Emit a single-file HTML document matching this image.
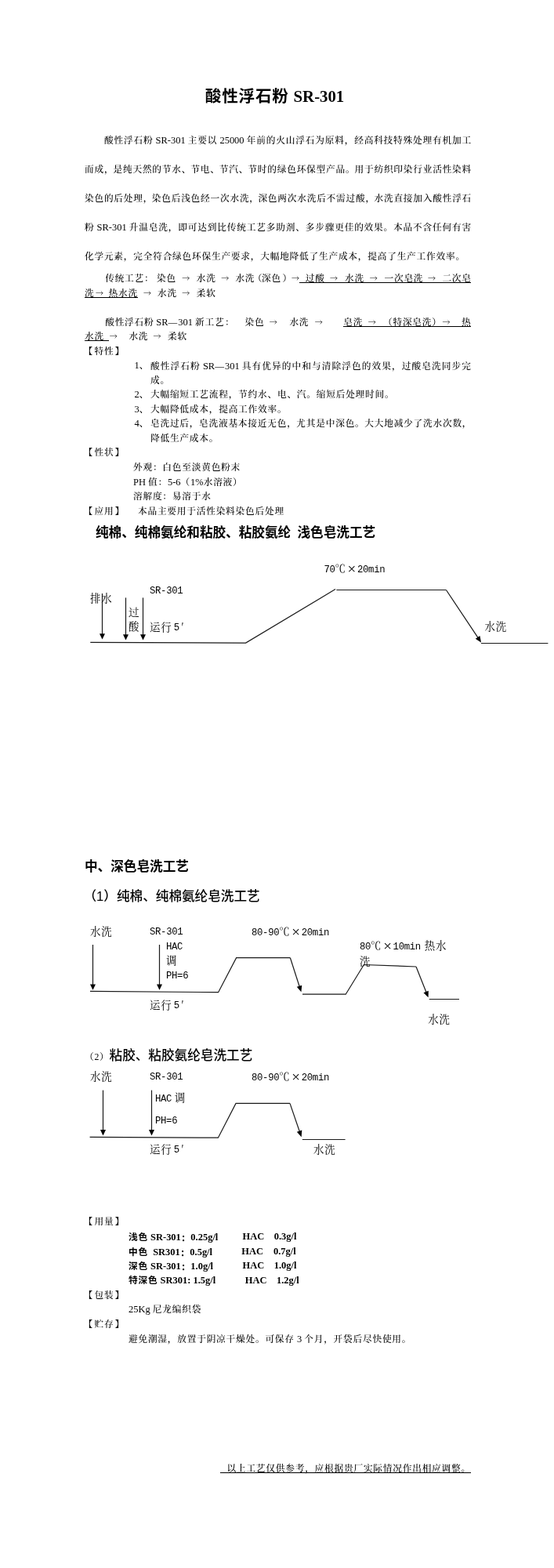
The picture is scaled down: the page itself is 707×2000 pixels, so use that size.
<!DOCTYPE html>
<html lang="zh-CN">
<head>
<meta charset="utf-8">
<title>酸性浮石粉 SR-301</title>
<style>
html,body{margin:0;padding:0;background:#fff;}
body{width:707px;height:2000px;position:relative;overflow:hidden;color:#000;
  font-family:"Liberation Serif","Noto Serif CJK SC",serif;font-size:12.47px;}
#doc{position:absolute;left:0;top:0;width:707px;height:2000px;background:#fff;filter:grayscale(1);}
.l{position:absolute;height:18.53px;line-height:18.53px;white-space:nowrap;margin:0;padding:0;}
.b{font-family:"Liberation Serif","Noto Serif CJK SC",serif;font-size:11.7px;letter-spacing:0.77px;font-weight:500;}
.e{font-family:"Liberation Serif","Noto Serif CJK SC",serif;font-size:12.47px;letter-spacing:0;}
.a{font-family:"Noto Serif CJK SC",serif;font-size:10px;letter-spacing:0;position:relative;top:-1px;}
.t{font-family:"Liberation Sans","Noto Sans CJK SC",sans-serif;font-size:20.6px;letter-spacing:0.8px;font-weight:700;white-space:pre;}
.te{font-family:"Liberation Serif","Noto Serif CJK SC",serif;font-size:20.8px;letter-spacing:0;margin-left:0.6px;}
.h{font-family:"Liberation Sans","Noto Sans CJK SC",sans-serif;font-size:16.63px;font-weight:500;}
.hb{font-weight:700;}
.bk{font-weight:700;}
.d{font-family:"Liberation Serif","Noto Serif CJK SC",serif;font-size:13.4px;letter-spacing:0.85px;font-weight:400;white-space:pre;color:#000;}
.m{font-family:"Liberation Mono",monospace;font-size:12.3px;letter-spacing:-0.33px;}
.x{display:inline-block;width:14.25px;text-align:center;letter-spacing:0;font-family:"Liberation Serif",serif;font-size:19px;line-height:1px;vertical-align:-1.5px;}
.c{display:inline-block;width:14.25px;letter-spacing:0;font-family:"Noto Serif CJK SC",serif;}
.q{letter-spacing:0;font-family:"Noto Serif CJK SC",serif;}
.k{font-family:"Liberation Sans","Noto Sans CJK SC",sans-serif;font-weight:700;font-size:11.7px;letter-spacing:0.77px;}
.kc{font-family:"Noto Serif CJK SC",serif;position:relative;top:1.5px;}
b.e{font-weight:700;}
.u{position:absolute;height:0;border-top:1px solid #000;}
svg{position:absolute;left:0;top:0;}
svg line,svg polyline{stroke:#1a1a1a;stroke-width:1.2;fill:none;}
svg polygon{fill:#000;stroke:none;}
</style>
</head>
<body>
<div id="doc">
<svg width="707" height="2000" viewBox="0 0 707 2000">
<line x1="130.5" y1="757" x2="130.5" y2="809.2"/><polygon points="127.0,808.2 134.0,808.2 130.5,815.6"/>
<line x1="160.5" y1="762.4" x2="160.5" y2="810.2"/><polygon points="157.0,809.2 164.0,809.2 160.5,816.6"/>
<line x1="182.5" y1="762.4" x2="182.5" y2="810.2"/><polygon points="179.0,809.2 186.0,809.2 182.5,816.6"/>
<polyline points="115.3,819.4 313.6,820.1 428,751.6"/>
<polyline points="429.4,752.5 569.4,752.5"/>
<line x1="569.4" y1="752.5" x2="610.16" y2="813.64"/><polygon points="606.78,814.70 612.44,810.92 614.04,819.47"/>
<polyline points="614,820.5 699.4,820.5"/>
<line x1="118.5" y1="1205" x2="118.5" y2="1256.3999999999999"/><polygon points="115.0,1255.3999999999999 122.0,1255.3999999999999 118.5,1262.8"/>
<line x1="203.5" y1="1205" x2="203.5" y2="1256.3999999999999"/><polygon points="200.0,1255.3999999999999 207.0,1255.3999999999999 203.5,1262.8"/>
<polyline points="115,1264.3 278.6,1265.7 301.6,1221.7 370.4,1221.7"/>
<line x1="370.4" y1="1221.7" x2="382.30" y2="1258.70"/><polygon points="378.76,1258.79 385.23,1256.70 384.44,1265.36"/>
<polyline points="386,1268.2 441.2,1268.2 464.4,1230.5 531,1233"/>
<line x1="531" y1="1233" x2="544.02" y2="1265.84"/><polygon points="540.49,1266.16 546.81,1263.65 546.59,1272.34"/>
<polyline points="547.7,1274.5 586,1274.5"/>
<line x1="131.5" y1="1390.6" x2="131.5" y2="1442.0"/><polygon points="128.0,1441.0 135.0,1441.0 131.5,1448.4"/>
<line x1="193.5" y1="1390.6" x2="193.5" y2="1442.0"/><polygon points="190.0,1441.0 197.0,1441.0 193.5,1448.4"/>
<polyline points="114.6,1450.3 278.4,1451.2 301,1407.4 370,1407.4"/>
<line x1="370" y1="1407.4" x2="382.39" y2="1443.54"/><polygon points="378.85,1443.69 385.28,1441.49 384.66,1450.16"/>
<polyline points="385.8,1453.5 440.6,1453.5"/>
</svg>
<div class="l t" style="top:107.8px;left:261.8px;height:30px;line-height:30px;">酸性浮石粉<span class="te"> SR-301</span></div>
<div class="l b" style="top:170.00px;left:133.00px;letter-spacing:0.806px;">酸性浮石粉<span class="e"> SR-301 </span>主要以<span class="e"> 25000 </span>年前的火山浮石为原料<span class="p" style="letter-spacing:0.806px">，</span>经高科技特殊处理有机加工</div>
<div class="l b" style="top:208.00px;left:108.00px;letter-spacing:0.770px;">而成<span class="p" style="letter-spacing:-0.094px">，</span>是纯天然的节水<span class="p" style="letter-spacing:-0.094px">、</span>节电<span class="p" style="letter-spacing:-0.094px">、</span>节汽<span class="p" style="letter-spacing:-0.094px">、</span>节时的绿色环保型产品<span class="p" style="letter-spacing:-0.094px">。</span>用于纺织印染行业活性染料</div>
<div class="l b" style="top:245.00px;left:108.00px;letter-spacing:0.770px;">染色的后处理<span class="p" style="letter-spacing:-0.660px">，</span>染色后浅色经一次水洗<span class="p" style="letter-spacing:-0.660px">，</span>深色两次水洗后不需过酸<span class="p" style="letter-spacing:-0.660px">，</span>水洗直接加入酸性浮石</div>
<div class="l b" style="top:281.00px;left:108.00px;letter-spacing:0.802px;">粉<span class="e"> SR-301 </span>升温皂洗<span class="p" style="letter-spacing:0.802px">，</span>即可达到比传统工艺多助剂<span class="p" style="letter-spacing:0.802px">、</span>多步骤更佳的效果<span class="p" style="letter-spacing:0.802px">。</span>本品不含任何有害</div>
<div class="l b" style="top:319.00px;left:108.00px;">化学元素，完全符合绿色环保生产要求，大幅地降低了生产成本，提高了生产工作效率。</div>
<div class="l b" style="top:347.00px;left:134.20px;">传统工艺：</div>
<div class="l b" style="top:347.00px;left:200.00px;">染色</div>
<div class="l b" style="top:347.00px;left:232.20px;"><span class="a">→</span></div>
<div class="l b" style="top:347.00px;left:250.80px;">水洗</div>
<div class="l b" style="top:347.00px;left:282.20px;"><span class="a">→</span></div>
<div class="l b" style="top:347.00px;left:300.40px;">水洗</div>
<div class="l b" style="top:347.00px;left:322.80px;">（</div>
<div class="l b" style="top:347.00px;left:334.10px;">深色</div>
<div class="l b" style="top:347.00px;left:360.60px;">）</div>
<div class="l b" style="top:347.00px;left:372.00px;"><span class="a">→</span></div>
<div class="l b" style="top:347.00px;left:389.70px;">过酸</div>
<div class="l b" style="top:347.00px;left:420.90px;"><span class="a">→</span></div>
<div class="l b" style="top:347.00px;left:440.00px;">水洗</div>
<div class="l b" style="top:347.00px;left:471.70px;"><span class="a">→</span></div>
<div class="l b" style="top:347.00px;left:490.50px;">一次皂洗</div>
<div class="l b" style="top:347.00px;left:546.00px;"><span class="a">→</span></div>
<div class="l b" style="top:347.00px;left:564.40px;">二次皂</div>
<div class="u" style="top:360.00px;left:382.40px;width:218.90px"></div>
<div class="l b" style="top:366.00px;left:108.00px;">洗</div>
<div class="l b" style="top:366.00px;left:122.00px;"><span class="a">→</span></div>
<div class="l b" style="top:366.00px;left:138.60px;">热水洗</div>
<div class="l b" style="top:366.00px;left:183.10px;"><span class="a">→</span></div>
<div class="l b" style="top:366.00px;left:201.00px;">水洗</div>
<div class="l b" style="top:366.00px;left:232.20px;"><span class="a">→</span></div>
<div class="l b" style="top:366.00px;left:250.80px;">柔软</div>
<div class="u" style="top:378.53px;left:108.00px;width:68.00px"></div>
<div class="l b" style="top:403.00px;left:134.20px;">酸性浮石粉</div>
<div class="l b" style="top:403.00px;left:199.30px;margin-top:-1px;"><span class="e">SR</span></div>
<div class="l b" style="top:403.00px;left:214.60px;">—</div>
<div class="l b" style="top:403.00px;left:227.20px;margin-top:-1px;"><span class="e">301</span></div>
<div class="l b" style="top:403.00px;left:249.00px;">新工艺</div>
<div class="l b" style="top:403.00px;left:286.90px;">：</div>
<div class="l b" style="top:403.00px;left:312.60px;">染色</div>
<div class="l b" style="top:403.00px;left:343.80px;"><span class="a">→</span></div>
<div class="l b" style="top:403.00px;left:369.40px;">水洗</div>
<div class="l b" style="top:403.00px;left:401.80px;"><span class="a">→</span></div>
<div class="l b" style="top:403.00px;left:438.30px;">皂洗</div>
<div class="l b" style="top:403.00px;left:469.80px;"><span class="a">→</span></div>
<div class="l b" style="top:403.00px;left:489.00px;">（特深皂洗）</div>
<div class="l b" style="top:403.00px;left:564.40px;"><span class="a">→</span></div>
<div class="l b" style="top:403.00px;left:589.00px;">热</div>
<div class="u" style="top:415.59px;left:437.50px;width:163.80px"></div>
<div class="l b" style="top:421.00px;left:108.00px;">水洗</div>
<div class="l b" style="top:421.00px;left:139.70px;"><span class="a">→</span></div>
<div class="l b" style="top:421.00px;left:164.40px;">水洗</div>
<div class="l b" style="top:421.00px;left:195.60px;"><span class="a">→</span></div>
<div class="l b" style="top:421.00px;left:214.00px;">柔软</div>
<div class="u" style="top:434.12px;left:108.00px;width:30.60px"></div>
<div class="l b" style="top:440.00px;left:106.40px;"><span class="bk">【</span></div>
<div class="l b" style="top:440.00px;left:120.47px;">特性</div>
<div class="l b" style="top:440.00px;left:146.81px;"><span class="bk">】</span></div>
<div class="l b" style="top:458.00px;left:171.50px;margin-top:-1px;"><span class="e">1</span>、</div>
<div class="l b" style="top:458.00px;left:192.00px;letter-spacing:1.065px;">酸性浮石粉<span class="e"> SR</span>—<span class="e">301 </span>具有优异的中和与清除浮色的效果<span class="p" style="letter-spacing:1.065px">，</span>过酸皂洗同步完</div>
<div class="l b" style="top:477.00px;left:192.00px;">成。</div>
<div class="l b" style="top:495.00px;left:171.50px;margin-top:-1px;"><span class="e">2</span>、</div>
<div class="l b" style="top:495.00px;left:192.00px;">大幅缩短工艺流程，节约水、电、汽。缩短后处理时间。</div>
<div class="l b" style="top:514.00px;left:171.50px;margin-top:-1px;"><span class="e">3</span>、</div>
<div class="l b" style="top:514.00px;left:192.00px;">大幅降低成本，提高工作效率。</div>
<div class="l b" style="top:532.00px;left:171.50px;margin-top:-1px;"><span class="e">4</span>、</div>
<div class="l b" style="top:532.00px;left:192.00px;letter-spacing:0.770px;">皂洗过后<span class="p" style="letter-spacing:0.495px">，</span>皂洗液基本接近无色<span class="p" style="letter-spacing:0.495px">，</span>尤其是中深色<span class="p" style="letter-spacing:0.495px">。</span>大大地减少了洗水次数<span class="p" style="letter-spacing:0.495px">，</span></div>
<div class="l b" style="top:551.00px;left:192.00px;">降低生产成本。</div>
<div class="l b" style="top:569.00px;left:106.40px;"><span class="bk">【</span></div>
<div class="l b" style="top:569.00px;left:120.47px;">性状</div>
<div class="l b" style="top:569.00px;left:146.81px;"><span class="bk">】</span></div>
<div class="l b" style="top:588.00px;left:170.00px;">外观：白色至淡黄色粉末</div>
<div class="l b" style="top:607.00px;left:170.00px;margin-top:-1px;"><span class="e">PH </span>值：<span class="e">5-6</span>（<span class="e">1%</span>水溶液）</div>
<div class="l b" style="top:625.00px;left:170.00px;">溶解度：易溶于水</div>
<div class="l b" style="top:644.00px;left:106.40px;"><span class="bk">【</span></div>
<div class="l b" style="top:644.00px;left:120.47px;">应用</div>
<div class="l b" style="top:644.00px;left:146.81px;"><span class="bk">】</span></div>
<div class="l b" style="top:644.00px;left:176.00px;">本品主要用于活性染料染色后处理</div>
<div class="l h hb" style="top:671.00px;left:122.00px;">纯棉、纯棉氨纶和粘胶、粘胶氨纶<span style="margin-left:8.3px">浅色皂洗工艺</span></div>
<div class="l d" style="top:755px;left:115.00px;">排水</div>
<div class="l d" style="top:744px;left:191.00px;"><span class="m">SR-301</span></div>
<div class="l d" style="top:773px;left:164.00px;">过</div>
<div class="l d" style="top:791px;left:164.00px;">酸</div>
<div class="l d" style="top:791px;left:191.00px;">运行<span style="margin-left:2.2px"></span><span class="m" style="position:relative;top:-1px">5</span><span class="q" style="margin-left:2.5px">′</span></div>
<div class="l d" style="top:716px;left:413.40px;"><span class="m">70</span><span class="c">℃</span><span class="x">×</span><span class="m">20min</span></div>
<div class="l d" style="top:791px;left:618.50px;">水洗</div>
<div class="l h hb" style="top:1097.00px;left:108.00px;">中、深色皂洗工艺</div>
<div class="l h" style="top:1135.00px;left:106.50px;">（1）纯棉、纯棉氨纶皂洗工艺</div>
<div class="l d" style="top:1180px;left:115.00px;">水洗</div>
<div class="l d" style="top:1179px;left:191.00px;"><span class="m">SR-301</span></div>
<div class="l d" style="top:1198px;left:212.00px;"><span class="m">HAC</span></div>
<div class="l d" style="top:1217px;left:212.00px;">调</div>
<div class="l d" style="top:1235px;left:212.00px;"><span class="m">PH=6</span></div>
<div class="l d" style="top:1273px;left:191.00px;">运行<span style="margin-left:2.2px"></span><span class="m" style="position:relative;top:-1px">5</span><span class="q" style="margin-left:2.5px">′</span></div>
<div class="l d" style="top:1179px;left:321.00px;"><span class="m">80-90</span><span class="c">℃</span><span class="x">×</span><span class="m">20min</span></div>
<div class="l d" style="top:1197px;left:459.00px;"><span class="m">80</span><span class="c">℃</span><span class="x">×</span><span class="m">10min</span><span style="margin-left:5px">热水</span></div>
<div class="l d" style="top:1218px;left:459.00px;">洗</div>
<div class="l d" style="top:1292px;left:546.30px;">水洗</div>
<div class="l h" style="top:1338.00px;left:108.00px;"><span class="b">（2）</span>粘胶、粘胶氨纶皂洗工艺</div>
<div class="l d" style="top:1365px;left:115.00px;">水洗</div>
<div class="l d" style="top:1364px;left:191.00px;"><span class="m">SR-301</span></div>
<div class="l d" style="top:1364px;left:321.00px;"><span class="m">80-90</span><span class="c">℃</span><span class="x">×</span><span class="m">20min</span></div>
<div class="l d" style="top:1392px;left:198.00px;"><span class="m">HAC</span><span style="margin-left:3.6px">调</span></div>
<div class="l d" style="top:1420px;left:198.00px;"><span class="m">PH=6</span></div>
<div class="l d" style="top:1457px;left:191.00px;">运行<span style="margin-left:2.2px"></span><span class="m" style="position:relative;top:-1px">5</span><span class="q" style="margin-left:2.5px">′</span></div>
<div class="l d" style="top:1458px;left:400.00px;">水洗</div>
<div class="l b" style="top:1550.00px;left:106.40px;"><span class="bk">【</span></div>
<div class="l b" style="top:1550.00px;left:120.47px;">用量</div>
<div class="l b" style="top:1550.00px;left:146.81px;"><span class="bk">】</span></div>
<div class="l b" style="top:1568.00px;left:164.00px;white-space:pre;"><b class="k">浅色</b><b class="e"> SR-301<span class='kc'>：</span>0.25g/l</b></div>
<div class="l b" style="top:1568.00px;left:309.50px;"><b class="e">HAC</b></div>
<div class="l b" style="top:1568.00px;left:349.70px;"><b class="e">0.3g/l</b></div>
<div class="l b" style="top:1587.00px;left:164.00px;white-space:pre;"><b class="k">中色</b><b class="e">  SR301<span class='kc'>：</span>0.5g/l</b></div>
<div class="l b" style="top:1587.00px;left:308.30px;"><b class="e">HAC</b></div>
<div class="l b" style="top:1587.00px;left:349.00px;"><b class="e">0.7g/l</b></div>
<div class="l b" style="top:1605.00px;left:164.00px;white-space:pre;"><b class="k">深色</b><b class="e"> SR-301<span class='kc'>：</span>1.0g/l</b></div>
<div class="l b" style="top:1605.00px;left:309.60px;"><b class="e">HAC</b></div>
<div class="l b" style="top:1605.00px;left:349.70px;"><b class="e">1.0g/l</b></div>
<div class="l b" style="top:1624.00px;left:164.00px;white-space:pre;"><b class="k">特深色</b><b class="e"> SR301: 1.5g/l</b></div>
<div class="l b" style="top:1624.00px;left:312.80px;"><b class="e">HAC</b></div>
<div class="l b" style="top:1624.00px;left:353.00px;"><b class="e">1.2g/l</b></div>
<div class="l b" style="top:1644.00px;left:106.40px;"><span class="bk">【</span></div>
<div class="l b" style="top:1644.00px;left:120.47px;">包装</div>
<div class="l b" style="top:1644.00px;left:146.81px;"><span class="bk">】</span></div>
<div class="l b" style="top:1661.00px;left:164.00px;"><span class="e">25Kg </span>尼龙编织袋</div>
<div class="l b" style="top:1681.00px;left:106.40px;"><span class="bk">【</span></div>
<div class="l b" style="top:1681.00px;left:120.47px;">贮存</div>
<div class="l b" style="top:1681.00px;left:146.81px;"><span class="bk">】</span></div>
<div class="l b" style="top:1699.00px;left:164.00px;">避免潮湿，放置于阴凉干燥处。可保存<span class="e"> 3 </span>个月，开袋后尽快使用。</div>
<div class="l b" style="top:1865.00px;left:289.50px;">以上工艺仅供参考，应根据贵厂实际情况作出相应调整。</div>
<div class="u" style="top:1878.40px;left:281.40px;width:319.90px"></div>
</div>
</body>
</html>
